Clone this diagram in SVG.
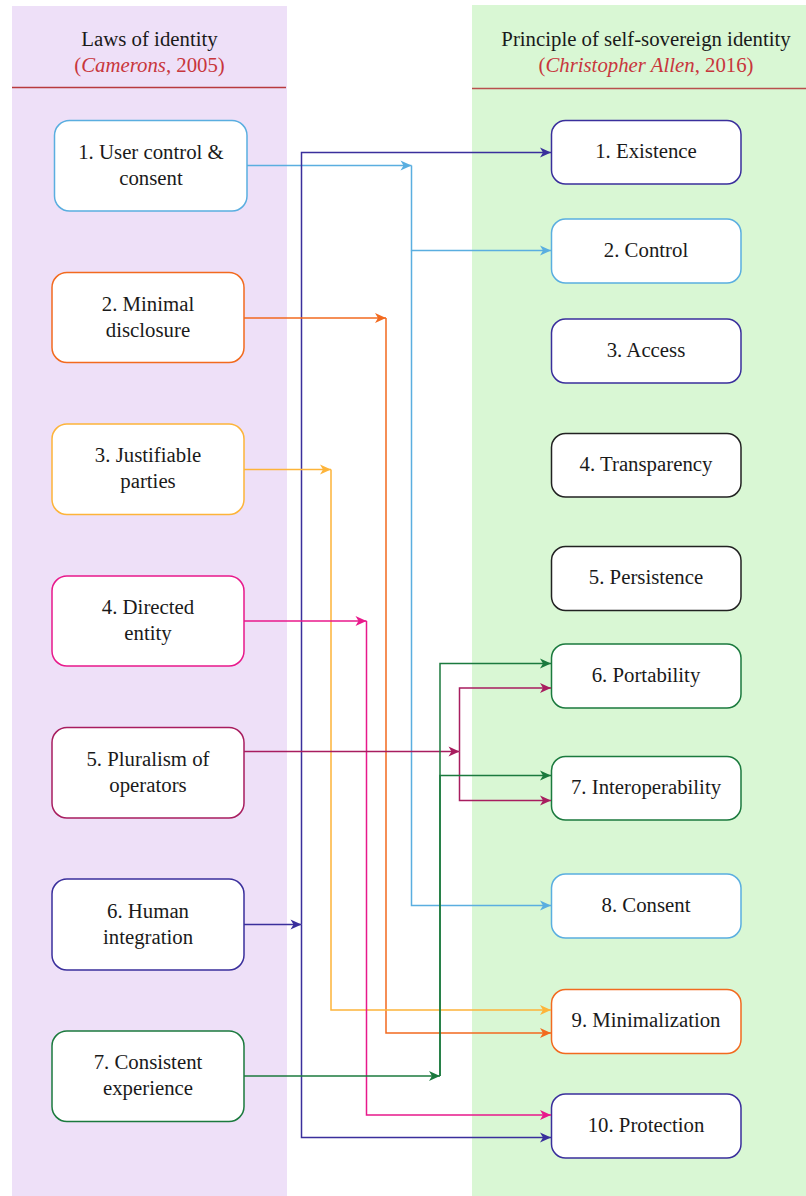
<svg xmlns="http://www.w3.org/2000/svg" width="806" height="1196" viewBox="0 0 806 1196" font-family="'Liberation Serif', 'DejaVu Serif', 'Times New Roman', serif">
<style>
text{font-family:'Liberation Serif','DejaVu Serif','Times New Roman',serif;font-size:20.8px;fill:#1a1a1a;text-anchor:middle}
.hd{font-size:20.8px}
.sub{fill:#c8363c}
.node rect{fill:#ffffff;stroke-width:1.5}
.edge{fill:none;stroke-width:1.5}
.cy{stroke:#5aaee0}.or{stroke:#f26a1f}.ye{stroke:#fdb43a}.pk{stroke:#e8198b}.mg{stroke:#a81d5f}.in{stroke:#3a2f9c}.gr{stroke:#1b7a3e}.bk{stroke:#222222}
</style>
<defs>
<marker id="a-cy" viewBox="-12 -6 12 12" refX="0" refY="0" markerWidth="12" markerHeight="12" markerUnits="userSpaceOnUse" orient="auto"><path d="M-11,-5 L0,0 L-11,5 L-8,0 Z" fill="#5aaee0"/></marker>
<marker id="a-or" viewBox="-12 -6 12 12" refX="0" refY="0" markerWidth="12" markerHeight="12" markerUnits="userSpaceOnUse" orient="auto"><path d="M-11,-5 L0,0 L-11,5 L-8,0 Z" fill="#f26a1f"/></marker>
<marker id="a-ye" viewBox="-12 -6 12 12" refX="0" refY="0" markerWidth="12" markerHeight="12" markerUnits="userSpaceOnUse" orient="auto"><path d="M-11,-5 L0,0 L-11,5 L-8,0 Z" fill="#fdb43a"/></marker>
<marker id="a-pk" viewBox="-12 -6 12 12" refX="0" refY="0" markerWidth="12" markerHeight="12" markerUnits="userSpaceOnUse" orient="auto"><path d="M-11,-5 L0,0 L-11,5 L-8,0 Z" fill="#e8198b"/></marker>
<marker id="a-mg" viewBox="-12 -6 12 12" refX="0" refY="0" markerWidth="12" markerHeight="12" markerUnits="userSpaceOnUse" orient="auto"><path d="M-11,-5 L0,0 L-11,5 L-8,0 Z" fill="#a81d5f"/></marker>
<marker id="a-in" viewBox="-12 -6 12 12" refX="0" refY="0" markerWidth="12" markerHeight="12" markerUnits="userSpaceOnUse" orient="auto"><path d="M-11,-5 L0,0 L-11,5 L-8,0 Z" fill="#3a2f9c"/></marker>
<marker id="a-gr" viewBox="-12 -6 12 12" refX="0" refY="0" markerWidth="12" markerHeight="12" markerUnits="userSpaceOnUse" orient="auto"><path d="M-11,-5 L0,0 L-11,5 L-8,0 Z" fill="#1b7a3e"/></marker>
</defs>
<rect width="806" height="1196" fill="#ffffff"/>
<g id="panels">
<rect x="12" y="6" width="275" height="1190" fill="#eee0f8"/>
<rect x="472" y="5" width="334" height="1191" fill="#d9f7d4"/>
<line x1="12" y1="87.5" x2="286" y2="87.5" stroke="#b83a3e" stroke-width="1.5"/>
<line x1="472" y1="88.5" x2="806" y2="88.5" stroke="#b9504d" stroke-width="1.5"/>
<text class="hd" x="149.5" y="45.5">Laws of identity</text>
<text class="hd sub" x="149.5" y="71.5">(<tspan font-style="italic">Camerons</tspan>, 2005)</text>
<text class="hd" x="646" y="45.5">Principle of self-sovereign identity</text>
<text class="hd sub" x="646" y="71.5">(<tspan font-style="italic">Christopher Allen</tspan>, 2016)</text>
</g>
<g id="left-nodes">
<g id="law1" class="node"><rect class="cy" x="54.5" y="120.5" width="192.5" height="90.5" rx="15"/><text x="151" y="158.5">1. User control &amp;</text><text x="151" y="184.5">consent</text></g>
<g id="law2" class="node"><rect class="or" x="52" y="272.5" width="192" height="90" rx="15"/><text x="148" y="310.5">2. Minimal</text><text x="148" y="336.5">disclosure</text></g>
<g id="law3" class="node"><rect class="ye" x="52" y="424" width="192" height="90.5" rx="15"/><text x="148" y="462">3. Justifiable</text><text x="148" y="488">parties</text></g>
<g id="law4" class="node"><rect class="pk" x="52" y="576" width="192" height="90" rx="15"/><text x="148" y="614">4. Directed</text><text x="148" y="640">entity</text></g>
<g id="law5" class="node"><rect class="mg" x="52" y="727.5" width="192" height="90.5" rx="15"/><text x="148" y="765.5">5. Pluralism of</text><text x="148" y="791.5">operators</text></g>
<g id="law6" class="node"><rect class="in" x="52" y="879" width="192" height="91" rx="15"/><text x="148" y="917.5">6. Human</text><text x="148" y="943.5">integration</text></g>
<g id="law7" class="node"><rect class="gr" x="52" y="1031" width="192" height="90.5" rx="15"/><text x="148" y="1069">7. Consistent</text><text x="148" y="1095">experience</text></g>
</g>
<g id="right-nodes">
<g id="p1" class="node"><rect class="in" x="551.5" y="120.5" width="189.5" height="63.5" rx="14"/><text x="646" y="158">1. Existence</text></g>
<g id="p2" class="node"><rect class="cy" x="551.5" y="219" width="189.5" height="64" rx="14"/><text x="646" y="256.5">2. Control</text></g>
<g id="p3" class="node"><rect class="in" x="551.5" y="319" width="189.5" height="64" rx="14"/><text x="646" y="356.5">3. Access</text></g>
<g id="p4" class="node"><rect class="bk" x="551.5" y="433.5" width="189.5" height="63.5" rx="14"/><text x="646" y="470.5">4. Transparency</text></g>
<g id="p5" class="node"><rect class="bk" x="551.5" y="546.5" width="189.5" height="64" rx="14"/><text x="646" y="584">5. Persistence</text></g>
<g id="p6" class="node"><rect class="gr" x="551.5" y="644" width="189.5" height="64" rx="14"/><text x="646" y="681.5">6. Portability</text></g>
<g id="p7" class="node"><rect class="gr" x="551.5" y="756.5" width="189.5" height="63.5" rx="14"/><text x="646" y="793.5">7. Interoperability</text></g>
<g id="p8" class="node"><rect class="cy" x="551.5" y="874" width="189.5" height="64" rx="14"/><text x="646" y="911.5">8. Consent</text></g>
<g id="p9" class="node"><rect class="or" x="551.5" y="989.5" width="189.5" height="64" rx="14"/><text x="646" y="1027">9. Minimalization</text></g>
<g id="p10" class="node"><rect class="in" x="551.5" y="1094" width="189.5" height="64" rx="14"/><text x="646" y="1131.5">10. Protection</text></g>
</g>
<g id="connectors">
<path class="edge cy" d="M247,165.5 H411.5" marker-end="url(#a-cy)"/>
<path class="edge cy" d="M411.5,165.5 V250.5 H551" marker-end="url(#a-cy)"/>
<path class="edge cy" d="M411.5,250.5 V905.5 H551" marker-end="url(#a-cy)"/>
<path class="edge in" d="M244,924.5 H301.5" marker-end="url(#a-in)"/>
<path class="edge in" d="M301.5,924.5 V152.5 H551" marker-end="url(#a-in)"/>
<path class="edge in" d="M301.5,924.5 V1137.5 H551" marker-end="url(#a-in)"/>
<path class="edge or" d="M244,318 H386" marker-end="url(#a-or)"/>
<path class="edge or" d="M386,318 V1033 H551" marker-end="url(#a-or)"/>
<path class="edge ye" d="M244,469.5 H331" marker-end="url(#a-ye)"/>
<path class="edge ye" d="M331,469.5 V1010 H551" marker-end="url(#a-ye)"/>
<path class="edge pk" d="M244,621 H366.5" marker-end="url(#a-pk)"/>
<path class="edge pk" d="M366.5,621 V1115 H551" marker-end="url(#a-pk)"/>
<path class="edge mg" d="M244,751.5 H459.5" marker-end="url(#a-mg)"/>
<path class="edge mg" d="M459.5,751.5 V688 H551" marker-end="url(#a-mg)"/>
<path class="edge mg" d="M459.5,751.5 V800.5 H551" marker-end="url(#a-mg)"/>
<path class="edge gr" d="M244,1076 H440" marker-end="url(#a-gr)"/>
<path class="edge gr" d="M440,1076 V663.5 H551" marker-end="url(#a-gr)"/>
<path class="edge gr" d="M440,1076 V775.5 H551" marker-end="url(#a-gr)"/>
</g>
</svg>
